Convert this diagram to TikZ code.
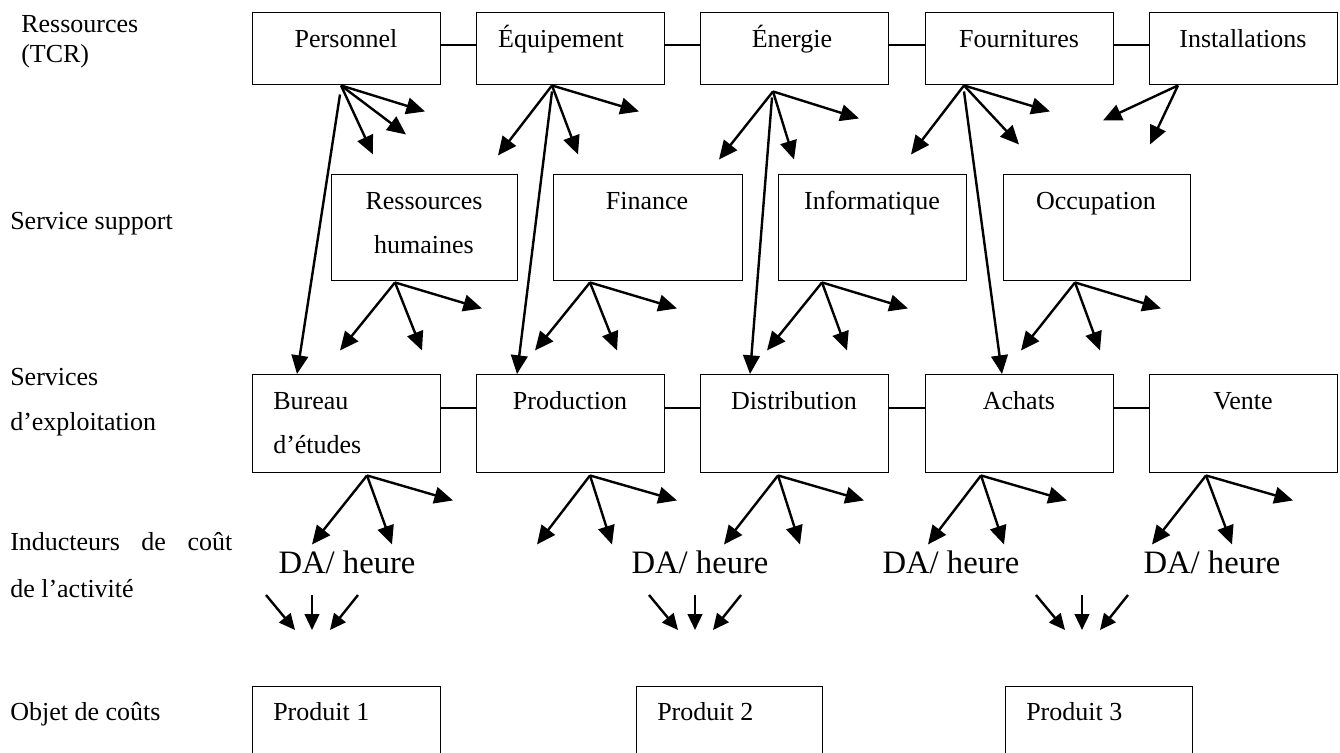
\documentclass[tikz,border=0pt]{standalone}
\usepackage{fontspec}
\setmainfont{Liberation Serif}
\usetikzlibrary{arrows.meta,calc}
% boxes are given by their upper-left corner, width and height (units: 0.75pt, y downward)
\newcommand\cbox[5]{\node[box,minimum width=#4*0.75pt,minimum height=#5*0.75pt] (#1) at (#2,#3) {};}
\begin{document}
\begin{tikzpicture}[x=0.75pt,y=-0.75pt,
  box/.style={draw,line width=1.1pt,inner sep=0pt,anchor=north west},
  lbl/.style={inner sep=0pt,font=\fontsize{19.5pt}{23pt}\selectfont},
  rate/.style={inner sep=0pt,font=\fontsize{24.5pt}{29pt}\selectfont},
  link/.style={line width=1.1pt},
  arr/.style={line width=1.8pt,-{Triangle[length=14pt,width=12.5pt]}},
  sarr/.style={line width=1.8pt,-{Triangle[length=12pt,width=11pt]}},
]
\useasboundingbox (0,0) rectangle (1340,753);
\clip (0,0) rectangle (1340,753);

% ---------- left column ----------
\node[lbl,anchor=base west] (l1a) at (21,32) {Ressources};
\node[lbl,anchor=base west] (l1b) at (21,62) {(TCR)};
\node[lbl,anchor=base west] (l2)  at (10,229) {Service support};
\node[lbl,anchor=base west] (l3a) at (10,385) {Services};
\node[lbl,anchor=base west] (l3b) at (10,430) {d’exploitation};
\node[lbl,anchor=base west] (l4a) at (10,550) {\makebox[166.5pt][s]{Inducteurs\hfill de\hfill coût}};
\node[lbl,anchor=base west] (l4b) at (10,597) {de l’activité};
\node[lbl,anchor=base west] (l5)  at (10,720) {Objet de coûts};

% ---------- resources ----------
\cbox{pers}{252}{12}{188}{72}
\cbox{equi}{476}{12}{188}{72}
\cbox{ener}{700}{12}{188}{72}
\cbox{four}{925}{12}{188}{72}
\cbox{inst}{1149}{12}{188}{72}
\node[lbl,anchor=base] (pers-t) at (346,47) {Personnel};
\node[lbl,anchor=base] (equi-t) at (561,47) {Équipement};
\node[lbl,anchor=base] (ener-t) at (792,47) {Énergie};
\node[lbl,anchor=base] (four-t) at (1019,47) {Fournitures};
\node[lbl,anchor=base] (inst-t) at (1243,47) {Installations};
\coordinate (ytop) at (0,45);
\draw[link] (pers.east |- ytop) -- (equi.west |- ytop);
\draw[link] (equi.east |- ytop) -- (ener.west |- ytop);
\draw[link] (ener.east |- ytop) -- (four.west |- ytop);
\draw[link] (four.east |- ytop) -- (inst.west |- ytop);

% ---------- support services ----------
\cbox{rh}{331}{174}{186}{106}
\cbox{fin}{553}{174}{189}{106}
\cbox{info}{778}{174}{188}{106}
\cbox{occ}{1003}{174}{187}{106}
\node[lbl,anchor=base] (rh-t1) at (424,209) {Ressources};
\node[lbl,anchor=base] (rh-t2) at (424,253) {humaines};
\node[lbl,anchor=base] (fin-t) at (647,209) {Finance};
\node[lbl,anchor=base] (info-t) at (872,209) {Informatique};
\node[lbl,anchor=base] (occ-t) at (1096,209) {Occupation};

% ---------- operating services ----------
\cbox{bur}{252}{374}{188}{98}
\cbox{prod}{476}{374}{188}{98}
\cbox{dist}{700}{374}{188}{98}
\cbox{ach}{925}{374}{188}{98}
\cbox{vte}{1149}{374}{188}{98}
\node[lbl,anchor=base west] (bur-t1) at (273,409) {Bureau};
\node[lbl,anchor=base west] (bur-t2) at (273,453) {d’études};
\node[lbl,anchor=base] (prod-t) at (570,409) {Production};
\node[lbl,anchor=base] (dist-t) at (794,409) {Distribution};
\node[lbl,anchor=base] (ach-t) at (1019,409) {Achats};
\node[lbl,anchor=base] (vte-t) at (1243,409) {Vente};
\coordinate (yop) at (0,408);
\draw[link] (bur.east |- yop) -- (prod.west |- yop);
\draw[link] (prod.east |- yop) -- (dist.west |- yop);
\draw[link] (dist.east |- yop) -- (ach.west |- yop);
\draw[link] (ach.east |- yop) -- (vte.west |- yop);

% ---------- cost drivers ----------
\node[rate,anchor=base] (da1) at (347,573) {DA/ heure};
\node[rate,anchor=base] (da2) at (700,573) {DA/ heure};
\node[rate,anchor=base] (da3) at (951,573) {DA/ heure};
\node[rate,anchor=base] (da4) at (1212,573) {DA/ heure};

% ---------- cost objects ----------
\cbox{p1}{252}{686}{188}{120}
\cbox{p2}{636}{686}{186}{120}
\cbox{p3}{1005}{686}{187}{120}
\node[lbl,anchor=base west] (p1-t) at (273,720) {Produit 1};
\node[lbl,anchor=base west] (p2-t) at (657,720) {Produit 2};
\node[lbl,anchor=base west] (p3-t) at (1026,720) {Produit 3};

% ---------- fan-out origins ----------
\coordinate (pers-o) at ($(pers.south west)+(89,0)$);
\coordinate (equi-o) at ($(equi.south west)+(76,0)$);
\coordinate (ener-o) at ($(ener.south west)+(73,6)$);
\coordinate (four-o) at ($(four.south west)+(39,0)$);
\coordinate (inst-o) at ($(inst.south west)+(29,0)$);
\coordinate (rh-o)   at ($(rh.south west)+(64,1)$);
\coordinate (fin-o)  at ($(fin.south west)+(37,1)$);
\coordinate (info-o) at ($(info.south west)+(44,1)$);
\coordinate (occ-o)  at ($(occ.south west)+(72,1)$);
\coordinate (bur-o)  at ($(bur.south west)+(115,2)$);
\coordinate (prod-o) at ($(prod.south west)+(114,2)$);
\coordinate (dist-o) at ($(dist.south west)+(78,2)$);
\coordinate (ach-o)  at ($(ach.south west)+(56,2)$);
\coordinate (vte-o)  at ($(vte.south west)+(57,2)$);

% resources -> support
\draw[arr] (pers-o) -- ++(84,26);
\draw[arr] (pers-o) -- ++(65,49);
\draw[arr] (pers-o) -- ++(32,69);
\draw[arr] (equi-o) -- ++(87,26);
\draw[arr] (equi-o) -- ++(26,69);
\draw[arr] (equi-o) -- ++(-54,70);
\draw[arr] (ener-o) -- ++(86,27);
\draw[arr] (ener-o) -- ++(21,68);
\draw[arr] (ener-o) -- ++(-54,68);
\draw[arr] (four-o) -- ++(86,26);
\draw[arr] (four-o) -- ++(55,59);
\draw[arr] (four-o) -- ++(-53,69);
\draw[arr] (inst-o) -- ++(-75,35);
\draw[arr] (inst-o) -- ++(-28,59);

% resources -> operating services (direct)
\draw[arr] ($(pers-o)+(-1,9)$) -- ($(bur.north west)+(45,0)$);
\draw[arr] ($(equi-o)+(0,6)$) -- ($(prod.north west)+(41,0)$);
\draw[arr] ($(ener-o)+(-1,6)$) -- ($(dist.north west)+(50,0)$);
\draw[arr] ($(four-o)+(0,6)$) -- ($(ach.north west)+(77,0)$);

% support -> operating
\draw[arr] (rh-o) -- ++(87,26);
\draw[arr] (rh-o) -- ++(27,68);
\draw[arr] (rh-o) -- ++(-55,68);
\draw[arr] (fin-o) -- ++(87,26);
\draw[arr] (fin-o) -- ++(27,68);
\draw[arr] (fin-o) -- ++(-55,68);
\draw[arr] (info-o) -- ++(86,26);
\draw[arr] (info-o) -- ++(25,68);
\draw[arr] (info-o) -- ++(-55,68);
\draw[arr] (occ-o) -- ++(86,26);
\draw[arr] (occ-o) -- ++(25,68);
\draw[arr] (occ-o) -- ++(-54,68);

% operating -> cost drivers
\draw[arr] (bur-o) -- ++(86,25);
\draw[arr] (bur-o) -- ++(25,69);
\draw[arr] (bur-o) -- ++(-55,69);
\draw[arr] (prod-o) -- ++(87,25);
\draw[arr] (prod-o) -- ++(22,69);
\draw[arr] (prod-o) -- ++(-53,69);
\draw[arr] (dist-o) -- ++(86,25);
\draw[arr] (dist-o) -- ++(22,69);
\draw[arr] (dist-o) -- ++(-54,69);
\draw[arr] (ach-o) -- ++(86,25);
\draw[arr] (ach-o) -- ++(23,69);
\draw[arr] (ach-o) -- ++(-53,69);
\draw[arr] (vte-o) -- ++(87,25);
\draw[arr] (vte-o) -- ++(26,69);
\draw[arr] (vte-o) -- ++(-54,69);

% cost drivers -> cost objects
\coordinate (g1) at (312,595);
\coordinate (g2) at (695,595);
\coordinate (g3) at (1082,595);
\foreach \g in {g1,g2,g3}{
  \draw[sarr] ($(\g)+(-46,0)$) -- ++(29,35);
  \draw[sarr] (\g) -- ++(0,35);
  \draw[sarr] ($(\g)+(46,0)$) -- ++(-28,35);
}
\end{tikzpicture}
\end{document}
